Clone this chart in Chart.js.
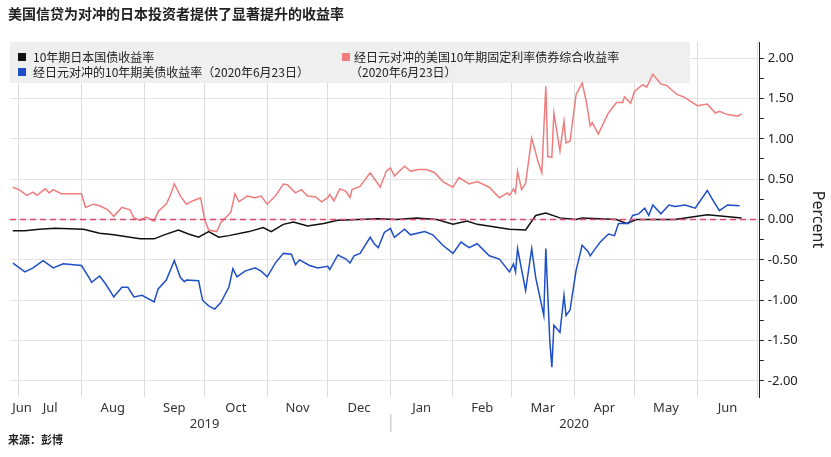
<!DOCTYPE html>
<html><head><meta charset="utf-8">
<script src="https://cdn.jsdelivr.net/npm/chart.js@4"></script>
<style>html,body{margin:0;padding:0;background:#fff}#w{width:831px;height:457px;position:relative}</style>
</head><body><div id="w"><canvas id="c"></canvas></div>
<script>
// days since 2019-07-01
const redDays=[-3,0,4,7,9,13,15,17,21,31,33,37,40,44,47,51,55,57,60,63,67,69,73,75,77,80,83,86,90,92,94,98,100,105,107,109,113,117,120,123,127,131,133,137,140,143,147,150,153,154,156,159,162,164,165,169,174,179,182,184,186,191,194,198,202,206,210,215,218,223,227,233,238,242,243,245,246,247,249,251,254,257,259,261,262,264,265,268,270,271,273,276,279,281,283,284,287,292,296,299,300,303,305,309,311,314,318,321,326,330,336,341,345,347,351,356,358];
const redVals=[0.40,0.37,0.30,0.34,0.30,0.38,0.33,0.37,0.32,0.32,0.15,0.19,0.17,0.12,0.04,0.15,0.12,0.02,-0.01,0.03,-0.02,0.10,0.19,0.30,0.44,0.29,0.19,0.23,0.27,0.00,-0.13,-0.15,-0.04,0.09,0.32,0.22,0.29,0.27,0.29,0.19,0.29,0.44,0.43,0.33,0.37,0.29,0.28,0.22,0.27,0.31,0.23,0.38,0.35,0.27,0.37,0.41,0.58,0.40,0.60,0.64,0.54,0.66,0.60,0.62,0.62,0.58,0.47,0.40,0.52,0.44,0.47,0.40,0.27,0.33,0.30,0.38,0.33,0.60,0.37,0.45,1.01,0.73,0.58,1.65,0.78,0.77,1.32,0.85,1.22,0.95,0.97,1.55,1.69,1.47,1.16,1.20,1.06,1.32,1.45,1.45,1.52,1.44,1.59,1.67,1.64,1.80,1.68,1.66,1.55,1.51,1.41,1.43,1.32,1.34,1.30,1.28,1.31];
const blueDays=[-3,3,7,12,17,22,31,35,36,40,43,47,51,54,57,61,67,69,73,77,80,82,83,89,91,94,97,100,104,106,108,112,117,120,123,127,131,135,137,139,144,148,153,154,158,162,164,166,169,174,176,178,181,184,186,191,194,201,205,210,215,219,223,227,233,238,243,245,246,247,251,254,256,260,261,263,264,265,268,270,271,273,276,279,282,283,285,288,292,295,297,302,304,307,310,312,314,318,322,325,330,335,341,343,347,351,357];
const blueVals=[-0.54,-0.65,-0.60,-0.51,-0.60,-0.55,-0.57,-0.73,-0.78,-0.70,-0.80,-0.96,-0.84,-0.84,-0.96,-0.94,-1.02,-0.86,-0.75,-0.51,-0.72,-0.77,-0.75,-0.76,-1.00,-1.07,-1.11,-1.03,-0.84,-0.61,-0.71,-0.64,-0.60,-0.64,-0.71,-0.54,-0.42,-0.43,-0.56,-0.50,-0.57,-0.60,-0.58,-0.62,-0.44,-0.49,-0.54,-0.45,-0.42,-0.22,-0.30,-0.35,-0.16,-0.11,-0.22,-0.12,-0.19,-0.15,-0.19,-0.32,-0.42,-0.28,-0.35,-0.30,-0.45,-0.49,-0.65,-0.55,-0.65,-0.36,-0.88,-0.36,-0.72,-1.19,-0.36,-1.52,-1.83,-1.31,-1.40,-0.94,-1.19,-1.12,-0.63,-0.32,-0.40,-0.45,-0.38,-0.28,-0.18,-0.20,-0.05,-0.05,0.05,0.07,0.14,0.05,0.18,0.07,0.18,0.16,0.18,0.14,0.36,0.27,0.11,0.18,0.17];
const blackDays=[-3,3,10,18,32,40,47,60,67,72,79,84,89,94,99,104,114,121,125,131,136,143,151,158,168,178,187,197,207,215,222,227,243,251,256,261,268,276,279,296,301,306,325,341,358];
const blackVals=[-0.14,-0.14,-0.12,-0.11,-0.12,-0.17,-0.19,-0.24,-0.24,-0.19,-0.13,-0.18,-0.22,-0.15,-0.22,-0.20,-0.15,-0.10,-0.15,-0.06,-0.03,-0.08,-0.05,-0.01,0.00,0.01,0.00,0.02,0.00,-0.06,-0.02,-0.06,-0.12,-0.13,0.05,0.08,0.02,0.00,0.02,0.00,-0.05,0.00,0.00,0.06,0.02];
const monthStarts=[0,31,62,92,123,153,184,215,244,275,305,336,366];
const monthLabels=['Jul','Aug','Sep','Oct','Nov','Dec','Jan','Feb','Mar','Apr','May','Jun'];
const yTicks=[-2,-1.5,-1,-0.5,0,0.5,1,1.5,2];
const seriesNames=['10年期日本国债收益率','经日元对冲的10年期美债收益率（2020年6月23日）','经日元对冲的美国10年期固定利率债券综合收益率','（2020年6月23日）'];
const XMIN=-4.4,XMAX=367;
const pts=(d,v)=>d.map((x,i)=>({x,y:v[i]}));
const BLACK='#111111',BLUE='#1f4fc6',RED='#ef7d7d';
const deco={id:'deco',
 beforeDatasetsDraw(ch){const c=ch.ctx;c.save();
  c.fillStyle='#efefef';c.fillRect(10,42,680,41);
  c.font='12px "Noto Sans CJK SC"';c.textBaseline='middle';
  const sq=(x,y,col)=>{c.fillStyle=col;c.fillRect(x,y-4,8,8);};
  sq(18,57,BLACK);sq(18,72,BLUE);sq(342,57,RED);
  c.fillStyle='#222';c.fillText(seriesNames[0],33,57);c.fillText(seriesNames[1],33,72);
  c.fillText(seriesNames[2],354,57);c.fillText(seriesNames[3],350,72);
  c.restore();},
 afterDraw(ch){const c=ch.ctx,xs=ch.scales.x;c.save();
  c.fillStyle='#222';c.font='bold 14px "Noto Sans CJK SC"';c.textBaseline='middle';
  c.fillText('美国信贷为对冲的日本投资者提供了显著提升的收益率',8,14);
  c.font='bold 11px "Noto Sans CJK SC"';c.fillText('来源：彭博',8,440);
  c.font='13px "Noto Sans"';c.textAlign='center';c.fillStyle='#333';
  c.fillText('Jun',22,408);
  for(let i=0;i<monthLabels.length;i++){const m=(monthStarts[i]+monthStarts[i+1])/2;c.fillText(monthLabels[i],xs.getPixelForValue(m),408);}
  c.fillText('2019',xs.getPixelForValue(92),424);c.fillText('2020',xs.getPixelForValue(275),424);
  const sx=xs.getPixelForValue(184);c.strokeStyle='#bbb';c.lineWidth=1;c.beginPath();c.moveTo(sx+0.5,414);c.lineTo(sx+0.5,432);c.stroke();
  c.restore();}
};
new Chart(document.getElementById('c'),{type:'line',
 data:{datasets:[
  {data:[{x:XMIN,y:0},{x:XMAX,y:0}],borderColor:'#e04a6a',borderWidth:1.5,borderDash:[6,4],pointRadius:0},
  {data:pts(redDays,redVals),borderColor:RED,borderWidth:1.5,pointRadius:0,tension:0},
  {data:pts(blueDays,blueVals),borderColor:BLUE,borderWidth:1.5,pointRadius:0,tension:0},
  {data:pts(blackDays,blackVals),borderColor:BLACK,borderWidth:1.5,pointRadius:0,tension:0}
 ]},
 options:{responsive:true,maintainAspectRatio:false,animation:false,
  layout:{padding:{left:10,top:42,bottom:60,right:4}},
  plugins:{legend:{display:false},tooltip:{enabled:false}},
  scales:{
   x:{type:'linear',min:XMIN,max:XMAX,
    afterBuildTicks(s){s.ticks=monthStarts.map(v=>({value:v}));},
    ticks:{display:false},border:{display:false},
    grid:{color:'#dcdcdc',borderDash:[2,2],drawTicks:false}},
   y:{position:'right',min:-2.2,max:2.2,
    afterBuildTicks(s){const t=[];for(let v=-2;v<=2.001;v+=0.25)t.push({value:Math.round(v*100)/100});s.ticks=t;},
    ticks:{color:'#222',font:{size:13,family:'"Noto Sans"'},padding:4,autoSkip:false,
     callback:v=>yTicks.includes(v)?v.toFixed(2):''},
    border:{display:true,color:'#222',width:1},
    grid:{color:c=>yTicks.includes(c.tick&&c.tick.value)?'#e3e3e3':'rgba(0,0,0,0)',
      tickColor:'#222',tickLength:4},
    title:{display:true,text:'Percent',color:'#222',font:{size:16,family:'"Noto Sans"'},padding:{top:0,bottom:6}}}
  }},
 plugins:[deco]});
</script></body></html>
